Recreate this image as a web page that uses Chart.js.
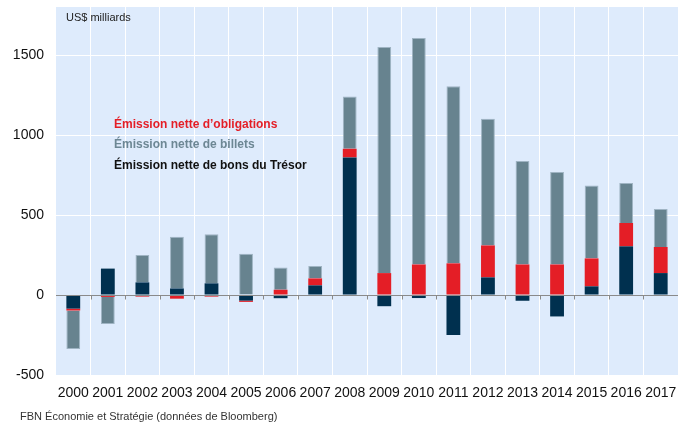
<!DOCTYPE html>
<html>
<head>
<meta charset="utf-8">
<script src="https://cdn.jsdelivr.net/npm/chart.js@4"></script>
<style>
  html, body { margin: 0; padding: 0; background: #fff; }
  #wrap { width: 678px; height: 425px; position: relative; }
</style>
</head>
<body>
<div id="wrap"><canvas id="chart"></canvas></div>
<script>
// valeurs (US$ milliards)
const years = ['2000', '2001', '2002', '2003', '2004', '2005', '2006', '2007', '2008',
  '2009', '2010', '2011', '2012', '2013', '2014', '2015', '2016', '2017'];
const bons = [-85, 165, 79, 41, 73, -35, -20, 60, 860, -70, -19, -250, 110, -36, -134, 54, 304, 137];
const obligations = [-12, -12, -10, -23, -10, -8, 33, 44, 54, 137, 191, 198, 200, 191, 191, 175, 146, 163];
const billets = [-240, -170, 171, 323, 306, 258, 139, 77, 327, 1413, 1415, 1106, 792, 646, 578, 456, 250, 237];
const yTicks = [-500, 0, 500, 1000, 1500];

const FONT = 'Liberation Sans, Arial, sans-serif';

// fond du graphique, zéro, légende et textes
const decor = {
  id: 'decor',
  beforeDraw(chart) {
    const { ctx, chartArea: a } = chart;
    ctx.save();
    ctx.fillStyle = '#deebfc';
    ctx.fillRect(a.left, a.top, a.right - a.left, a.bottom - a.top);
    ctx.restore();
  },
  afterDatasetsDraw(chart) {
    const { ctx, chartArea: a, scales } = chart;
    const y0 = Math.round(scales.y.getPixelForValue(0)) + 0.5;
    const step = scales.x.getPixelForValue(1) - scales.x.getPixelForValue(0);
    ctx.save();
    ctx.strokeStyle = '#8a8a8a';
    ctx.lineWidth = 1;
    ctx.beginPath();
    ctx.moveTo(a.left, y0);
    ctx.lineTo(a.right, y0);
    for (let i = 0; i < years.length; i++) {
      const x = Math.round(scales.x.getPixelForValue(i) + step / 2) + 0.5;
      ctx.moveTo(x, y0);
      ctx.lineTo(x, y0 + 4);
    }
    ctx.stroke();

    ctx.textBaseline = 'middle';
    ctx.textAlign = 'left';
    ctx.font = '11px ' + FONT;
    ctx.fillStyle = '#222';
    ctx.fillText('US$ milliards', a.left + 10, 18);

    ctx.font = 'bold 12px ' + FONT;
    ctx.fillStyle = '#e41e26';
    ctx.fillText('Émission nette d’obligations', 114, 125);
    ctx.fillStyle = '#6d8794';
    ctx.fillText('Émission nette de billets', 114, 145);
    ctx.fillStyle = '#111';
    ctx.fillText('Émission nette de bons du Trésor', 114, 166);

    ctx.font = '11px ' + FONT;
    ctx.fillStyle = '#333';
    ctx.fillText('FBN Économie et Stratégie (données de Bloomberg)', 20, 417);
    ctx.restore();
  }
};

new Chart(document.getElementById('chart'), {
  type: 'bar',
  data: {
    labels: years,
    datasets: [
      { label: 'Émission nette de bons du Trésor', data: bons, backgroundColor: '#00304f' },
      { label: 'Émission nette d’obligations', data: obligations, backgroundColor: '#e41e26' },
      { label: 'Émission nette de billets', data: billets, backgroundColor: '#67838f',
        borderColor: '#9fb4c3', borderWidth: 1 }
    ]
  },
  options: {
    responsive: true,
    maintainAspectRatio: false,
    animation: false,
    categoryPercentage: 1,
    barPercentage: 0.4,
    layout: { padding: { top: 7, right: 0, bottom: 22, left: 0 } },
    plugins: {
      legend: { display: false },
      tooltip: { enabled: false }
    },
    scales: {
      x: {
        stacked: true,
        offset: true,
        grid: { color: '#ffffff', lineWidth: 1, offset: true, drawTicks: false },
        border: { display: false },
        ticks: { color: '#111', font: { family: FONT, size: 14 }, padding: 10, maxRotation: 0, autoSkip: false },
        afterFit(s) { s.height = 28; s.paddingLeft = 0; s.paddingRight = 0; }
      },
      y: {
        stacked: true,
        min: -500,
        max: 1800,
        afterBuildTicks(s) { s.ticks = yTicks.map(v => ({ value: v })); },
        grid: { color: '#ffffff', lineWidth: 1, drawTicks: false },
        border: { display: false },
        ticks: { color: '#111', font: { family: FONT, size: 14 }, padding: 12, autoSkip: false,
          callback: v => String(v) },
        afterFit(s) { s.width = 56; s.paddingTop = 0; s.paddingBottom = 0; }
      }
    }
  },
  plugins: [decor]
});
</script>
</body>
</html>
